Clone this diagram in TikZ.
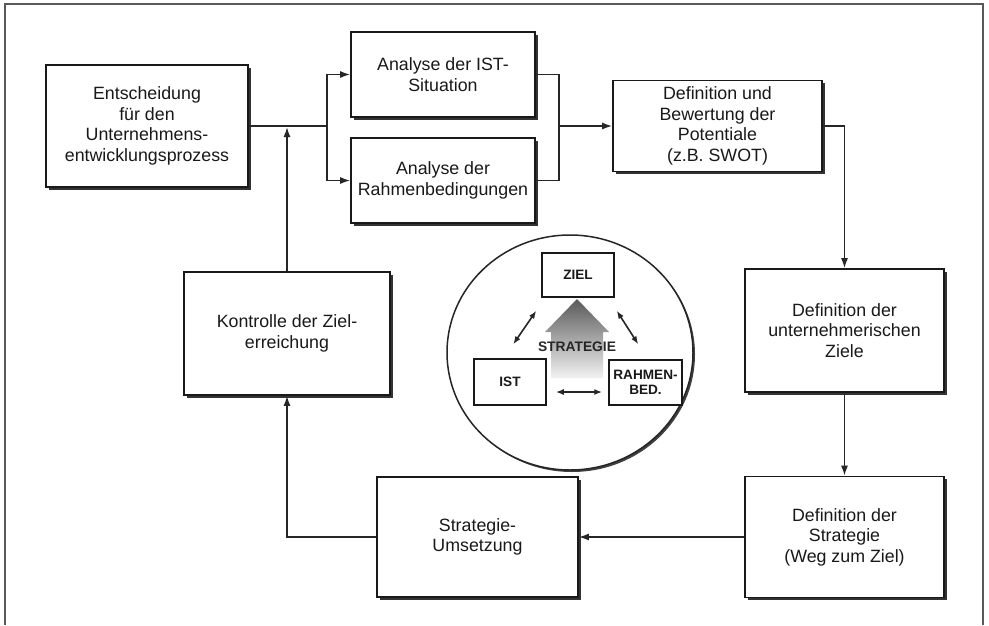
\documentclass[tikz,border=0pt]{standalone}
\usepackage{fontspec}
\setmainfont{Liberation Sans}
\usetikzlibrary{shadows,arrows.meta,calc,shapes.geometric}
\begin{document}
\begin{tikzpicture}[x=1pt,y=-1pt,
  box/.style={draw=black!90, line width=1.6pt, fill=white,
    drop shadow={shadow xshift=2.5pt, shadow yshift=-2.5pt, fill=black!80, opacity=1},
    align=center, inner sep=0pt, text=black!90,
    font=\fontsize{17.8}{20.5}\selectfont},
  smallbox/.style={draw=black!90, line width=1.5pt, fill=white, align=center,
    inner sep=0pt, text=black!90, font=\fontsize{13.6}{15.5}\selectfont\bfseries},
  conn/.style={line width=1.6pt, draw=black!85},
  arr/.style={conn, -{Latex[length=10pt,width=7pt]}},
  darr/.style={conn, {Latex[length=8pt,width=6pt]}-{Latex[length=8pt,width=6pt]}},
]
\useasboundingbox (0,0) rectangle (989,625);
\fill[white] (0,0) rectangle (989,625);
% frame
\draw[line width=1.2pt, black!65] (5,625) -- (5,4) -- (983,4) -- (983,625);

% main boxes
\node[box, minimum width=202pt, minimum height=122pt] (b1) at (147,126)
  {Entscheidung\\für den\\Unternehmens-\\entwicklungsprozess};
\node[box, minimum width=184pt, minimum height=85pt] (b2) at (443,74.5)
  {Analyse der IST-\\Situation};
\node[box, minimum width=184pt, minimum height=85pt] (b3) at (443,180.5)
  {Analyse der\\Rahmenbedingungen};
\node[box, minimum width=209pt, minimum height=91pt] (b4) at (717.5,126)
  {Definition und\\Bewertung der\\Potentiale\\(z.B. SWOT)};
\node[box, minimum width=199pt, minimum height=123pt] (b5) at (844.5,330.5)
  {Definition der\\unternehmerischen\\Ziele};
\node[box, minimum width=199pt, minimum height=121pt] (b6) at (844.5,537)
  {Definition der\\Strategie\\(Weg zum Ziel)};
\node[box, minimum width=201pt, minimum height=120pt] (b7) at (477.5,537)
  {Strategie-\\Umsetzung};
\node[box, minimum width=206pt, minimum height=123pt] (b8) at (287,333.5)
  {Kontrolle der Ziel-\\erreichung};

% connectors
\coordinate (s1) at (327,126);
\coordinate (m1) at (559,126);
\coordinate (j1) at (287,127);
\draw[conn] (b1.east) -- (s1);
\draw[arr] (s1) |- (b2.west);
\draw[arr] (s1) |- (b3.west);
\draw[conn] (b2.east) -| (m1);
\draw[conn] (b3.east) -| (m1);
\draw[arr] (m1) -- (b4.west);
\draw[arr] (b4.east) -| (b5.north);
\draw[arr] (b5.south) -- (b6.north);
\draw[arr] (b6.west) -- (b7.east);
\draw[arr] (b7.west) -| (b8.south);
\draw[arr] (b8.north) -- (j1);

% central circle
\node[draw=black!85, ellipse, line width=1.5pt, fill=white,
  minimum width=246pt, minimum height=235pt, inner sep=0pt,
  drop shadow={shadow xshift=2pt, shadow yshift=-2pt, fill=black!75, opacity=1}]
  (c) at (570,352.5) {};

% big strategy arrow
\shade[top color=black!65, bottom color=black!5]
  (551,378) -- (551,332) -- (545,332) -- (577,299) -- (609,332) -- (603,332) -- (603,378) -- cycle;

\node[smallbox, minimum width=72pt, minimum height=44pt] (zl) at (578,275) {ZIEL};
\node[smallbox, minimum width=72pt, minimum height=46pt] (ist) at (510,382) {IST};
\node[smallbox, minimum width=73pt, minimum height=45pt] (rb) at (645.5,382.5) {RAHMEN-\\BED.};

\node[font=\fontsize{13.8}{15}\selectfont\bfseries, text=black!85] (st) at (577,347) {STRATEGIE};

\draw[darr] ($(ist.north west)+(40,-14)$) -- ($(zl.south west)+(-5,13)$);
\draw[darr] ($(zl.south east)+(2,13)$) -- ($(rb.north west)+(30,-15)$);
\draw[darr] ($(ist.east)+(9,10)$) -- ($(rb.west)+(-6,9.5)$);
\end{tikzpicture}
\end{document}
